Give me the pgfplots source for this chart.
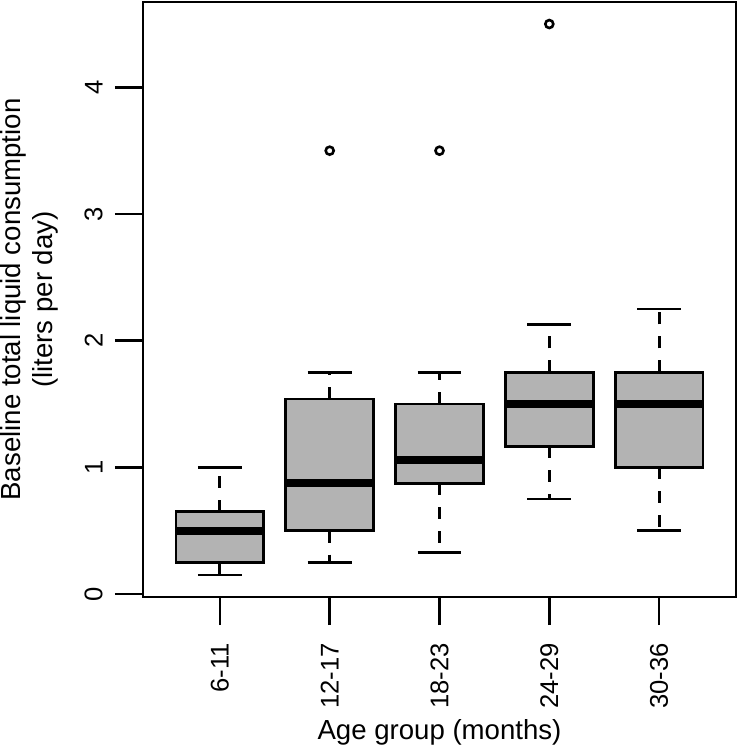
\documentclass[border=0pt]{standalone}
\usepackage{fontspec}
\setmainfont{Liberation Sans}
\usepackage{pgfplots}
\pgfplotsset{compat=1.18}
\usepgfplotslibrary{statistics}
\definecolor{boxgray}{RGB}{179,179,179}

\pgfplotsset{
  rbox/.style={
    black, line width=1.4pt,
    mark=o, mark size=2pt, mark options={line width=1.3pt, solid},
    boxplot/draw direction=y,
    boxplot/box extend=0.8,
    boxplot/whisker extend=0.4,
    boxplot/every box/.style={fill=boxgray},
    boxplot/every median/.style={line width=4pt},
    boxplot/draw/lower whisker/.code={%
      \draw[dash pattern=on 6pt off 6pt]
        (boxplot whisker cs:\pgfplotsboxplotvalue{lower quartile},0.5) --
        (boxplot whisker cs:\pgfplotsboxplotvalue{lower whisker},0.5);
      \draw (boxplot whisker cs:\pgfplotsboxplotvalue{lower whisker},0) --
        (boxplot whisker cs:\pgfplotsboxplotvalue{lower whisker},1);
    },
    boxplot/draw/upper whisker/.code={%
      \draw[dash pattern=on 6pt off 6pt]
        (boxplot whisker cs:\pgfplotsboxplotvalue{upper quartile},0.5) --
        (boxplot whisker cs:\pgfplotsboxplotvalue{upper whisker},0.5);
      \draw (boxplot whisker cs:\pgfplotsboxplotvalue{upper whisker},0) --
        (boxplot whisker cs:\pgfplotsboxplotvalue{upper whisker},1);
    },
  },
}

\begin{document}
\begin{tikzpicture}
\useasboundingbox (-71.5pt,-76pt) rectangle (298.5pt,298.5pt);
\begin{axis}[
  scale only axis, width=296.5pt, height=297.5pt,
  xmin=0.3, xmax=5.7, ymin=-0.024, ymax=4.674,
  xtick={1,2,3,4,5}, xticklabels={6-11,12-17,18-23,24-29,30-36},
  ytick={0,1,2,3,4},
  xtick pos=bottom, ytick pos=left,
  tick align=outside, major tick length=14pt,
  every tick/.style={black, line width=1.2pt},
  axis line style={line width=1.4pt},
  font=\fontsize{13.8}{16}\selectfont,
  /pgf/number format/assume math mode=true,
  tick label style={font=\fontsize{12.8}{15}\selectfont},
  x tick label style={rotate=90, anchor=east, inner sep=0pt, xshift=-9pt},
  y tick label style={rotate=90, anchor=south, inner sep=0pt, yshift=6pt},
  every axis x label/.style={at={(axis description cs:0.5,0)}, anchor=south, inner sep=0pt, yshift=-74.5pt},
  every axis y label/.style={at={(axis description cs:0,0.5)}, xshift=-42pt, rotate=90, anchor=south, inner sep=0pt, align=center},
  xlabel={Age group (months)},
  ylabel={Baseline total liquid consumption\\(liters per day)},
]
\addplot[rbox, boxplot prepared={draw position=1,
  lower whisker=0.15, lower quartile=0.25, median=0.5,
  upper quartile=0.65, upper whisker=1.0}] coordinates {};
\addplot[rbox, boxplot prepared={draw position=2,
  lower whisker=0.25, lower quartile=0.5, median=0.875,
  upper quartile=1.54, upper whisker=1.75}] coordinates {(0,3.5)};
\addplot[rbox, boxplot prepared={draw position=3,
  lower whisker=0.33, lower quartile=0.875, median=1.06,
  upper quartile=1.5, upper whisker=1.75}] coordinates {(0,3.5)};
\addplot[rbox, boxplot prepared={draw position=4,
  lower whisker=0.75, lower quartile=1.165, median=1.5,
  upper quartile=1.75, upper whisker=2.125}] coordinates {(0,4.5)};
\addplot[rbox, boxplot prepared={draw position=5,
  lower whisker=0.5, lower quartile=1.0, median=1.5,
  upper quartile=1.75, upper whisker=2.25}] coordinates {};
\end{axis}
\end{tikzpicture}
\end{document}
